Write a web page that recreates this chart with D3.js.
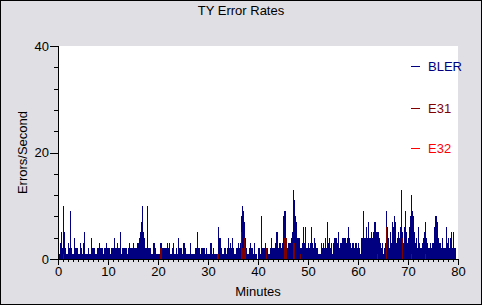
<!DOCTYPE html>
<html>
<head>
<meta charset="utf-8">
<script src="https://cdn.jsdelivr.net/npm/d3@7"></script>
<style>
  html, body { margin: 0; padding: 0; background: #e0dfe3; }
  svg { display: block; }
  text { font-family: Arial, "Liberation Sans", sans-serif; }
</style>
</head>
<body>
<svg id="chart" width="482" height="305"></svg>
<script>
// ---- Data ----
const title = "TY Error Rates";
const xLabel = "Minutes";
const yLabel = "Errors/Second";
const sampleStep = 0.2; // minutes per sample column
const xTicks = [0, 10, 20, 30, 40, 50, 60, 70, 80];
const yTicks = [0, 20, 40];
const seriesNames = ["BLER", "E31", "E32"];
const seriesColors = ["#000080", "#800000", "#ff0000"];

// BLER, one value per 0.2-minute sample starting at minute 0
const blerValues = [
  1,1,3,5,2,10,5,2,1,1, 3,2,9,2,1,1,4,2,2,2, 1,1,3,2,1,3,5,1,1,1, 2,1,1,4,2,2,2,1,1,2,
  2,3,2,2,2,1,2,2,3,2, 2,2,1,2,2,2,4,2,2,3, 2,2,5,1,2,2,2,2,2,1, 2,3,2,2,2,3,2,2,2,3,
  3,4,5,7,10,5,4,2,2,10, 2,2,2,1,1,3,3,2,1,1, 1,1,3,3,2,2,2,2,2,3, 2,3,1,1,2,3,1,1,2,1,
  4,2,2,2,1,3,3,2,1,1, 1,1,3,1,1,1,1,2,2,5, 2,2,1,2,2,2,2,1,2,1, 1,1,3,3,1,2,1,1,1,1,
  6,4,4,2,1,1,2,2,1,2, 4,2,3,2,4,2,1,1,2,2, 3,2,3,8,10,9,7,4,2,1, 1,2,3,2,2,1,3,1,1,0,
  2,2,1,8,2,2,2,3,2,2, 1,1,2,4,2,2,2,3,5,5, 2,3,3,2,3,8,9,9,4,2, 3,3,3,4,5,13,11,8,7,4,
  4,4,2,2,3,6,3,6,2,2, 3,2,3,6,3,2,4,3,2,2, 1,1,1,3,2,3,2,4,2,7, 3,4,2,3,1,3,4,4,4,3,
  5,2,3,3,4,4,4,4,3,4, 6,4,3,2,3,3,2,3,3,2, 3,2,1,4,4,9,4,4,6,4, 7,4,4,5,4,5,7,7,5,5,
  5,4,3,2,3,1,2,3,9,6, 4,2,5,3,7,6,8,7,3,4, 5,4,6,13,5,3,6,9,5,3, 4,6,8,12,9,8,5,3,4,2,
  6,3,2,2,3,4,5,7,4,3, 2,2,3,2,3,3,6,8,8,7, 4,3,3,2,4,2,2,2,6,3, 4,2,4,5,2,5,2,2,0,0
];

// E31 (sparse non-zero samples)
const e31Minutes = [1.0, 20.4, 20.6, 31.8, 32.0, 36.6, 36.8, 37.0, 37.2, 37.4, 41.6, 45.2, 45.4, 45.6, 47.0, 47.2, 48.4, 63.8, 65.6, 68.8, 70.6, 73.4];
const e31Values  = [1,   2,    2,    1,    1,    5,    2,    2,    4,    2,    2,    4,    4,    4,    3,    3,    1,    1,    6,    4,    1,    1];

// E32 (no non-zero samples visible)
const e32Minutes = [];
const e32Values = [];

// ---- Drawing ----
const W = 482, H = 305;
const plot = { left: 58, right: 458, top: 46, bottom: 259 };
const svg = d3.select("#chart");

svg.append("rect").attr("x", 0.5).attr("y", 0.5).attr("width", W - 1).attr("height", H - 1)
  .attr("fill", "#e0dfe3").attr("stroke", "#000").attr("stroke-width", 1);

svg.append("rect").attr("x", plot.left).attr("y", plot.top)
  .attr("width", plot.right - plot.left).attr("height", plot.bottom - plot.top)
  .attr("fill", "#fff");

const x = d3.scaleLinear().domain([0, 80]).range([plot.left, plot.right]);
const y = d3.scaleLinear().domain([0, 40]).range([plot.bottom, plot.top]);
const colW = x(sampleStep) - x(0);

const g = svg.append("g").attr("shape-rendering", "crispEdges");

g.append("g").selectAll("rect").data(blerValues).join("rect")
  .attr("x", (d, i) => x(i * sampleStep))
  .attr("y", d => y(d))
  .attr("width", colW)
  .attr("height", d => y(0) - y(d))
  .attr("fill", seriesColors[0]);

const e31 = e31Minutes.map((m, i) => ({ m, v: e31Values[i] }));
g.append("g").selectAll("rect").data(e31).join("rect")
  .attr("x", d => x(d.m))
  .attr("y", d => y(d.v))
  .attr("width", colW)
  .attr("height", d => y(0) - y(d.v))
  .attr("fill", seriesColors[1]);

const e32 = e32Minutes.map((m, i) => ({ m, v: e32Values[i] }));
g.append("g").selectAll("rect").data(e32).join("rect")
  .attr("x", d => x(d.m))
  .attr("y", d => y(d.v))
  .attr("width", colW)
  .attr("height", d => y(0) - y(d.v))
  .attr("fill", seriesColors[2]);

// Axes
const fontSize = "13px";
const yMinor = d3.range(0, 41, 4);
const xMinor = d3.range(0, 81, 1);

const yMinorAxis = svg.append("g").attr("transform", `translate(${plot.left},0)`)
  .call(d3.axisLeft(y).tickValues(yMinor).tickSize(4).tickFormat(""));
const yAxis = svg.append("g").attr("transform", `translate(${plot.left},0)`)
  .call(d3.axisLeft(y).tickValues(yTicks).tickSize(8).tickPadding(1).tickFormat(d3.format("d")));
const xMinorAxis = svg.append("g").attr("transform", `translate(0,${plot.bottom})`)
  .call(d3.axisBottom(x).tickValues(xMinor).tickSize(3).tickFormat(""));
const xAxis = svg.append("g").attr("transform", `translate(0,${plot.bottom})`)
  .call(d3.axisBottom(x).tickValues(xTicks).tickSize(6).tickPadding(2).tickFormat(d3.format("d")));

[yMinorAxis, yAxis, xMinorAxis, xAxis].forEach(a => {
  a.attr("shape-rendering", "crispEdges");
  a.select(".domain").attr("stroke", "#000");
  a.selectAll(".tick line").attr("stroke", "#000");
  a.selectAll("text").attr("fill", "#000").attr("font-size", fontSize)
    .attr("font-family", "Arial, 'Liberation Sans', sans-serif");
});
yMinorAxis.select(".domain").remove();
xMinorAxis.select(".domain").remove();

// Title & labels
svg.append("text").attr("x", 241).attr("y", 15).attr("text-anchor", "middle")
  .attr("font-size", fontSize).attr("fill", "#000").text(title);
svg.append("text").attr("x", (plot.left + plot.right) / 2).attr("y", 296).attr("text-anchor", "middle")
  .attr("font-size", fontSize).attr("fill", "#000").text(xLabel);
svg.append("text").attr("transform", `translate(27,${(plot.top + plot.bottom) / 2}) rotate(-90)`)
  .attr("text-anchor", "middle").attr("font-size", fontSize).attr("fill", "#000").text(yLabel);

// Legend
const legendY = [66, 108, 148];
const lg = svg.append("g").attr("shape-rendering", "crispEdges");
seriesNames.forEach((name, i) => {
  lg.append("line").attr("x1", 411).attr("x2", 420)
    .attr("y1", legendY[i] + 0.5).attr("y2", legendY[i] + 0.5)
    .attr("stroke", seriesColors[i]).attr("stroke-width", 1);
  lg.append("text").attr("x", 428).attr("y", legendY[i] + 5)
    .attr("font-size", fontSize).attr("fill", seriesColors[i]).text(name);
});
</script>
</body>
</html>
